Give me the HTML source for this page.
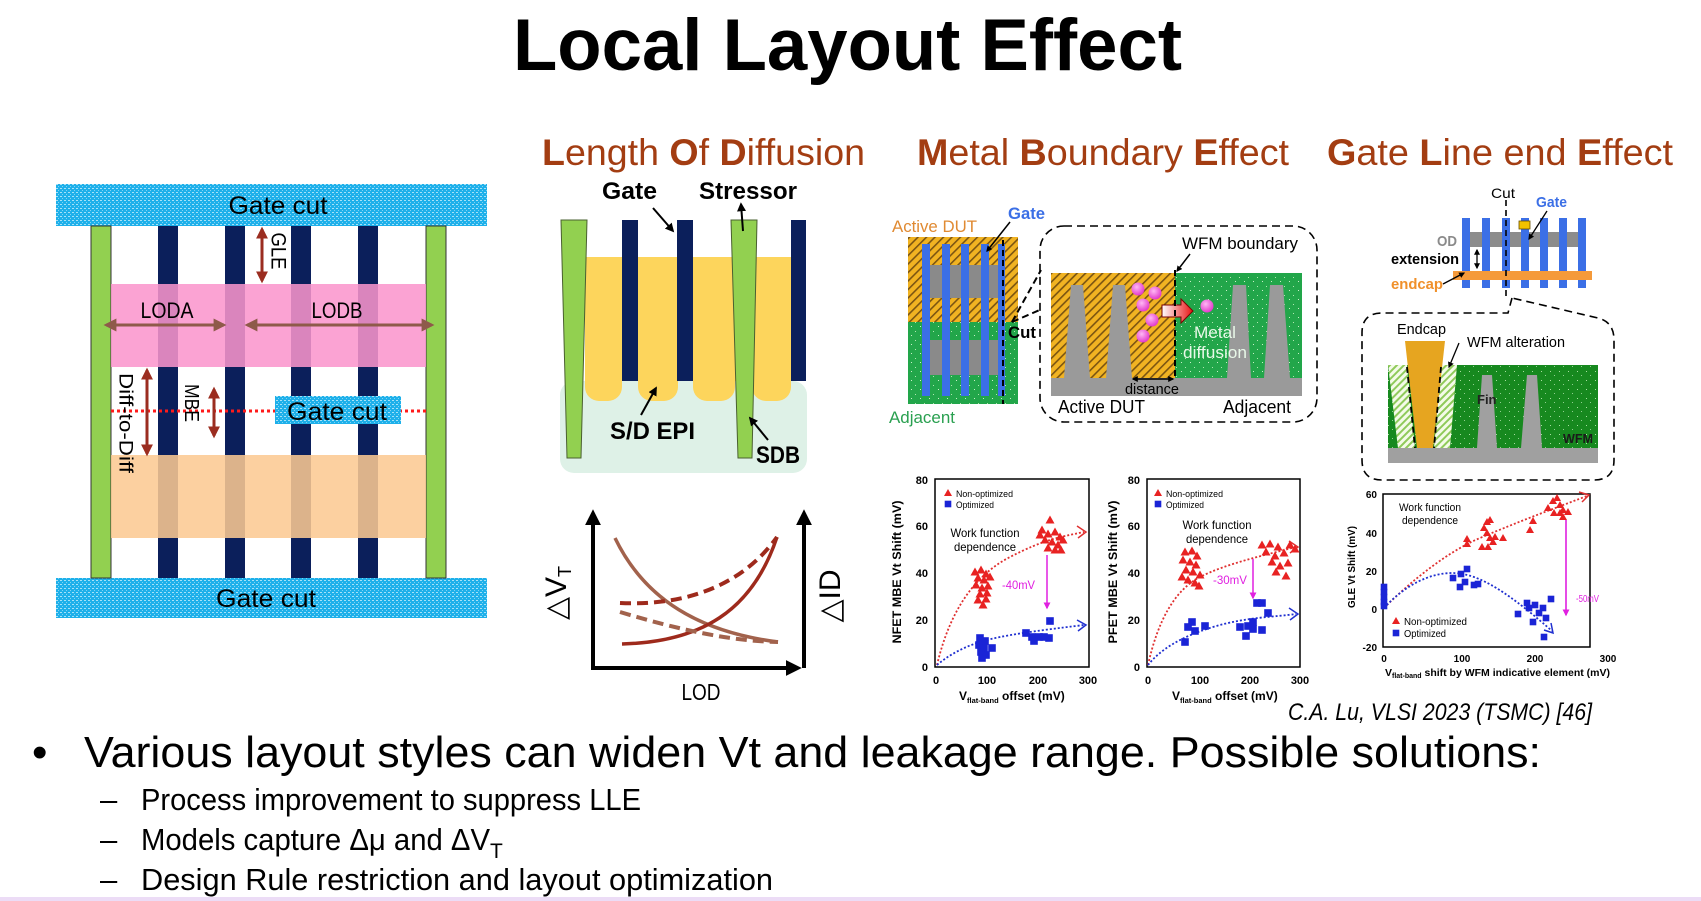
<!DOCTYPE html>
<html><head><meta charset="utf-8">
<style>html,body{margin:0;padding:0;background:#fff;}svg{display:block}</style>
</head><body>
<svg width="1701" height="901" viewBox="0 0 1701 901" xmlns="http://www.w3.org/2000/svg" font-family="'Liberation Sans', sans-serif">
<defs>
  <pattern id="cy" width="4" height="4" patternUnits="userSpaceOnUse">
    <rect width="4" height="4" fill="#1eb0ea"/><rect width="2" height="1" fill="#a6e2f8"/><rect x="2" y="2" width="1" height="1" fill="#7fd4f4"/>
  </pattern>
  <pattern id="hatch" width="6" height="6" patternUnits="userSpaceOnUse" patternTransform="rotate(45)">
    <rect width="6" height="6" fill="#f1b322"/><rect width="1.6" height="6" fill="#7a5412"/>
  </pattern>
  <pattern id="gd" width="9" height="9" patternUnits="userSpaceOnUse">
    <rect width="9" height="9" fill="#22a64a"/><rect x="2" y="2" width="1" height="1" fill="#c8f0c8"/><rect x="6" y="7" width="1" height="1" fill="#b0e8b0"/>
  </pattern>
  <pattern id="gd2" width="9" height="9" patternUnits="userSpaceOnUse">
    <rect width="9" height="9" fill="#17891f"/><rect x="2" y="2" width="1" height="1" fill="#a8e0a0"/><rect x="6" y="6" width="1" height="1" fill="#90d090"/>
  </pattern>
  <pattern id="lh" width="5" height="5" patternUnits="userSpaceOnUse" patternTransform="rotate(45)">
    <rect width="5" height="5" fill="#f4fbe8"/><rect width="2" height="5" fill="#8fca5a"/>
  </pattern>
  <linearGradient id="rg" x1="0" x2="1" y1="0" y2="0"><stop offset="0" stop-color="#fff"/><stop offset="1" stop-color="#e81010"/></linearGradient>
  <radialGradient id="pk" cx="0.4" cy="0.35" r="0.7"><stop offset="0" stop-color="#ffb8f4"/><stop offset="1" stop-color="#e030c8"/></radialGradient>
  <marker id="mR" viewBox="0 0 10 10" refX="8" refY="5" markerWidth="12" markerHeight="12" markerUnits="userSpaceOnUse" orient="auto-start-reverse"><path d="M0,0L10,5L0,10z" fill="#9b2d20"/></marker>
  <marker id="mB" viewBox="0 0 10 10" refX="8" refY="5" markerWidth="13" markerHeight="13" markerUnits="userSpaceOnUse" orient="auto-start-reverse"><path d="M0,0L10,5L0,10z" fill="#8e5a4a"/></marker>
  <marker id="mK" viewBox="0 0 10 10" refX="8" refY="5" markerWidth="9" markerHeight="9" markerUnits="userSpaceOnUse" orient="auto-start-reverse"><path d="M0,0L10,5L0,10z" fill="#000"/></marker>
  <marker id="mK2" viewBox="0 0 10 10" refX="8" refY="5" markerWidth="6" markerHeight="6" markerUnits="userSpaceOnUse" orient="auto-start-reverse"><path d="M0,0L10,5L0,10z" fill="#000"/></marker>
  <marker id="mA" viewBox="0 0 10 10" refX="7" refY="5" markerWidth="16" markerHeight="16" markerUnits="userSpaceOnUse" orient="auto"><path d="M0,0L10,5L0,10z" fill="#000"/></marker>
  <marker id="mM" viewBox="0 0 10 10" refX="8" refY="5" markerWidth="7" markerHeight="7" markerUnits="userSpaceOnUse" orient="auto"><path d="M0,0L10,5L0,10z" fill="#e020e0"/></marker>
  <path id="tri" d="M0,-4.5 L4.5,3.5 L-4.5,3.5Z" fill="#e82222"/>
  <rect id="sq" x="-3.8" y="-3.8" width="7.6" height="7.6" fill="#1a24d6"/>
  <path id="tri2" d="M0,-4 L4,3 L-4,3Z" fill="#e82222"/>
  <rect id="sq2" x="-3.3" y="-3.3" width="6.6" height="6.6" fill="#1a24d6"/>
</defs>

<!-- Title -->
<text x="513" y="70" font-size="73" font-weight="bold" textLength="669" lengthAdjust="spacingAndGlyphs">Local Layout Effect</text>

<!-- Section titles -->
<text x="542" y="165" font-size="37" fill="#a33d12" textLength="323" lengthAdjust="spacingAndGlyphs"><tspan font-weight="bold">L</tspan>ength <tspan font-weight="bold">O</tspan>f <tspan font-weight="bold">D</tspan>iffusion</text>
<text x="917" y="165" font-size="37" fill="#a33d12" textLength="372" lengthAdjust="spacingAndGlyphs"><tspan font-weight="bold">M</tspan>etal <tspan font-weight="bold">B</tspan>oundary <tspan font-weight="bold">E</tspan>ffect</text>
<text x="1327" y="165" font-size="37" fill="#a33d12" textLength="346" lengthAdjust="spacingAndGlyphs"><tspan font-weight="bold">G</tspan>ate <tspan font-weight="bold">L</tspan>ine end <tspan font-weight="bold">E</tspan>ffect</text>

<!-- ===== Left panel ===== -->
<rect x="56" y="184" width="431" height="42" fill="url(#cy)"/>
<rect x="56" y="578" width="431" height="40" fill="url(#cy)"/>
<rect x="91" y="226" width="20" height="352" fill="#92d050" stroke="#333" stroke-width="1"/>
<rect x="426" y="226" width="20" height="352" fill="#92d050" stroke="#333" stroke-width="1"/>
<rect x="158" y="226" width="20" height="352" fill="#0b1f5b"/>
<rect x="225" y="226" width="20" height="352" fill="#0b1f5b"/>
<rect x="291" y="226" width="20" height="352" fill="#0b1f5b"/>
<rect x="358" y="226" width="20" height="352" fill="#0b1f5b"/>
<rect x="111" y="284" width="315" height="83" fill="rgb(250,149,204)" fill-opacity="0.865"/>
<rect x="111" y="455" width="315" height="83" fill="rgb(252,201,146)" fill-opacity="0.87"/>
<line x1="111" y1="411" x2="426" y2="411" stroke="#ff1a1a" stroke-width="3" stroke-dasharray="3,3"/>
<rect x="275" y="396" width="126" height="28" fill="url(#cy)"/>
<text x="278" y="214" text-anchor="middle" font-size="25" textLength="99" lengthAdjust="spacingAndGlyphs">Gate cut</text>
<text x="266" y="607" text-anchor="middle" font-size="25" textLength="100" lengthAdjust="spacingAndGlyphs">Gate cut</text>
<text x="337" y="420" text-anchor="middle" font-size="25" textLength="100" lengthAdjust="spacingAndGlyphs">Gate cut</text>
<text x="167" y="318" text-anchor="middle" font-size="22" textLength="53" lengthAdjust="spacingAndGlyphs">LODA</text>
<text x="337" y="318" text-anchor="middle" font-size="22" textLength="51" lengthAdjust="spacingAndGlyphs">LODB</text>
<line x1="106" y1="325" x2="224" y2="325" stroke="#8e5a4a" stroke-width="3" marker-start="url(#mB)" marker-end="url(#mB)"/>
<line x1="247" y1="325" x2="432" y2="325" stroke="#8e5a4a" stroke-width="3" marker-start="url(#mB)" marker-end="url(#mB)"/>
<line x1="262" y1="229" x2="262" y2="281" stroke="#9b2d20" stroke-width="3" marker-start="url(#mR)" marker-end="url(#mR)"/>
<text transform="translate(278,251) rotate(90)" text-anchor="middle" dominant-baseline="central" font-size="21" textLength="37" lengthAdjust="spacingAndGlyphs">GLE</text>
<line x1="147" y1="370" x2="147" y2="454" stroke="#9b2d20" stroke-width="3" marker-start="url(#mR)" marker-end="url(#mR)"/>
<text transform="translate(125,423) rotate(90)" text-anchor="middle" dominant-baseline="central" font-size="19" textLength="100" lengthAdjust="spacingAndGlyphs">Diff-to-Diff</text>
<line x1="214" y1="389" x2="214" y2="436" stroke="#9b2d20" stroke-width="3" marker-start="url(#mR)" marker-end="url(#mR)"/>
<text transform="translate(191,403) rotate(90)" text-anchor="middle" dominant-baseline="central" font-size="20" textLength="38" lengthAdjust="spacingAndGlyphs">MBE</text>

<!-- ===== LOD cross-section ===== -->
<rect x="560" y="381" width="247" height="92" rx="14" fill="#def1e7"/>
<rect x="585" y="257" width="208" height="124" fill="#fdd55c"/>
<rect x="585" y="355" width="37" height="46" rx="14" fill="#fdd55c"/>
<rect x="638" y="355" width="40" height="46" rx="14" fill="#fdd55c"/>
<rect x="693" y="355" width="42" height="46" rx="14" fill="#fdd55c"/>
<rect x="752" y="355" width="39" height="46" rx="14" fill="#fdd55c"/>
<rect x="622" y="220" width="16" height="161" fill="#0b1f5b"/>
<rect x="677" y="220" width="16" height="161" fill="#0b1f5b"/>
<rect x="791" y="220" width="15" height="161" fill="#0b1f5b"/>
<polygon points="561,220 587,220 581,458 567,458" fill="#92d050" stroke="#4a6030" stroke-width="1"/>
<polygon points="731,220 757,220 752,458 738,458" fill="#92d050" stroke="#4a6030" stroke-width="1"/>
<text x="602" y="199" font-size="24" font-weight="bold" textLength="55" lengthAdjust="spacingAndGlyphs">Gate</text>
<text x="699" y="199" font-size="24" font-weight="bold" textLength="98" lengthAdjust="spacingAndGlyphs">Stressor</text>
<line x1="653" y1="208" x2="673" y2="231" stroke="#000" stroke-width="2" marker-end="url(#mK)"/>
<line x1="743" y1="231" x2="741" y2="204" stroke="#000" stroke-width="2" marker-end="url(#mK)"/>
<line x1="641" y1="415" x2="656" y2="388" stroke="#000" stroke-width="2" marker-end="url(#mK)"/>
<line x1="768" y1="440" x2="750" y2="418" stroke="#000" stroke-width="2" marker-end="url(#mK)"/>
<text x="610" y="439" font-size="24" font-weight="bold" textLength="85" lengthAdjust="spacingAndGlyphs">S/D EPI</text>
<text x="756" y="463" font-size="24" font-weight="bold" textLength="44" lengthAdjust="spacingAndGlyphs">SDB</text>

<!-- ===== LOD graph ===== -->
<line x1="593" y1="668" x2="593" y2="514" stroke="#000" stroke-width="4" marker-end="url(#mA)"/>
<line x1="804" y1="668" x2="804" y2="514" stroke="#000" stroke-width="4" marker-end="url(#mA)"/>
<line x1="591" y1="668" x2="797" y2="668" stroke="#000" stroke-width="4" marker-end="url(#mA)"/>
<path d="M615,538 C645,600 700,632 778,642" fill="none" stroke="#a2624c" stroke-width="3.5"/>
<path d="M622,644 C700,642 752,612 777,537" fill="none" stroke="#9e2a1c" stroke-width="3.5"/>
<path d="M620,603 C685,606 742,586 777,537" fill="none" stroke="#9e2a1c" stroke-width="4" stroke-dasharray="11,6"/>
<path d="M620,612 C680,630 730,641 778,642" fill="none" stroke="#a2624c" stroke-width="4" stroke-dasharray="11,6"/>
<text transform="translate(566,593) rotate(-90)" text-anchor="middle" font-size="30">△V<tspan font-size="18" dy="5">T</tspan></text>
<text transform="translate(840,596) rotate(-90)" text-anchor="middle" font-size="30">△ID</text>
<text x="701" y="700" text-anchor="middle" font-size="23" textLength="39" lengthAdjust="spacingAndGlyphs">LOD</text>

<!-- ===== MBE diagram ===== -->
<rect x="908" y="237" width="110" height="85" fill="url(#hatch)"/>
<rect x="908" y="322" width="110" height="82" fill="url(#gd)"/>
<rect x="928" y="265" width="74" height="33" fill="#8a8a8a"/>
<rect x="928" y="340" width="74" height="35" fill="#8a8a8a"/>
<rect x="922" y="244" width="8" height="152" fill="#3b6fe6"/>
<rect x="942" y="244" width="8" height="152" fill="#3b6fe6"/>
<rect x="961" y="244" width="8" height="152" fill="#3b6fe6"/>
<rect x="981" y="244" width="8" height="152" fill="#3b6fe6"/>
<rect x="998" y="244" width="7" height="152" fill="#3b6fe6"/>
<line x1="1003" y1="240" x2="1003" y2="404" stroke="#000" stroke-width="2" stroke-dasharray="6,4"/>
<line x1="1012" y1="322" x2="1041" y2="270" stroke="#000" stroke-width="2" stroke-dasharray="7,4"/>
<line x1="1012" y1="322" x2="1042" y2="309" stroke="#000" stroke-width="2" stroke-dasharray="7,4"/>
<line x1="1010" y1="222" x2="987" y2="251" stroke="#000" stroke-width="1.5" marker-end="url(#mK2)"/>
<text x="892" y="232" font-size="17" fill="#e08a32" textLength="85" lengthAdjust="spacingAndGlyphs">Active DUT</text>
<text x="1008" y="219" font-size="17" font-weight="bold" fill="#3b6fe6" textLength="37" lengthAdjust="spacingAndGlyphs">Gate</text>
<text x="1008" y="338" font-size="17" font-weight="bold" textLength="28" lengthAdjust="spacingAndGlyphs">Cut</text>
<text x="889" y="423" font-size="17" fill="#2aa050" textLength="66" lengthAdjust="spacingAndGlyphs">Adjacent</text>
<rect x="1040" y="226" width="277" height="196" rx="24" fill="none" stroke="#000" stroke-width="1.6" stroke-dasharray="8,5"/>
<rect x="1051" y="273" width="124" height="105" fill="url(#hatch)"/>
<rect x="1175" y="273" width="127" height="105" fill="url(#gd)"/>
<rect x="1051" y="378" width="251" height="18" fill="#9a9a9a"/>
<polygon points="1071,285 1083,285 1090,378 1064,378" fill="#9a9a9a"/>
<polygon points="1113,285 1125,285 1132,378 1106,378" fill="#9a9a9a"/>
<polygon points="1233,285 1246,285 1251,378 1227,378" fill="#9a9a9a"/>
<polygon points="1270,285 1283,285 1290,378 1264,378" fill="#9a9a9a"/>
<circle cx="1138" cy="289" r="6.5" fill="url(#pk)"/>
<circle cx="1155" cy="293" r="6.5" fill="url(#pk)"/>
<circle cx="1143" cy="305" r="6.5" fill="url(#pk)"/>
<circle cx="1152" cy="320" r="6.5" fill="url(#pk)"/>
<circle cx="1143" cy="336" r="6.5" fill="url(#pk)"/>
<circle cx="1207" cy="306" r="6.5" fill="url(#pk)"/>
<path d="M1162,305 L1181,305 L1181,299 L1193,311 L1181,323 L1181,317 L1162,317 Z" fill="url(#rg)" stroke="#7a0000" stroke-width="1"/>
<line x1="1175" y1="270" x2="1175" y2="378" stroke="#000" stroke-width="2" stroke-dasharray="6,4"/>
<line x1="1190" y1="254" x2="1177" y2="271" stroke="#000" stroke-width="1.5" marker-end="url(#mK2)"/>
<line x1="1133" y1="379" x2="1173" y2="379" stroke="#000" stroke-width="1.5" marker-start="url(#mK2)" marker-end="url(#mK2)"/>
<text x="1182" y="249" font-size="17" textLength="116" lengthAdjust="spacingAndGlyphs">WFM boundary</text>
<text x="1215" y="338" text-anchor="middle" font-size="17" fill="#e8f8e8" textLength="42" lengthAdjust="spacingAndGlyphs">Metal</text>
<text x="1215" y="358" text-anchor="middle" font-size="17" fill="#e8f8e8" textLength="64" lengthAdjust="spacingAndGlyphs">diffusion</text>
<text x="1152" y="394" text-anchor="middle" font-size="15" textLength="54" lengthAdjust="spacingAndGlyphs">distance</text>
<text x="1058" y="413" font-size="18" textLength="87" lengthAdjust="spacingAndGlyphs">Active DUT</text>
<text x="1223" y="413" font-size="18" textLength="68" lengthAdjust="spacingAndGlyphs">Adjacent</text>

<!-- ===== GLE diagram ===== -->
<rect x="1462" y="232" width="124" height="15" fill="#8c8c8c"/>
<rect x="1462" y="218" width="8" height="70" fill="#3b6fe6"/>
<rect x="1482" y="218" width="8" height="70" fill="#3b6fe6"/>
<rect x="1502" y="218" width="8" height="70" fill="#3b6fe6"/>
<rect x="1521" y="218" width="8" height="70" fill="#3b6fe6"/>
<rect x="1540" y="218" width="8" height="70" fill="#3b6fe6"/>
<rect x="1559" y="218" width="8" height="70" fill="#3b6fe6"/>
<rect x="1578" y="218" width="8" height="70" fill="#3b6fe6"/>
<rect x="1453" y="271" width="139" height="9" fill="#f59a3a"/>
<rect x="1519" y="221" width="11" height="8" fill="#f2c200" stroke="#6a5000" stroke-width="0.8"/>
<line x1="1506" y1="200" x2="1506" y2="298" stroke="#000" stroke-width="1.6" stroke-dasharray="6,4"/>
<line x1="1547" y1="211" x2="1529" y2="239" stroke="#000" stroke-width="1.3" marker-end="url(#mK2)"/>
<line x1="1443" y1="284" x2="1464" y2="273" stroke="#000" stroke-width="1.3" marker-end="url(#mK2)"/>
<line x1="1477" y1="250" x2="1477" y2="268" stroke="#000" stroke-width="1.3" marker-start="url(#mK2)" marker-end="url(#mK2)"/>
<text x="1503" y="198" text-anchor="middle" font-size="14" textLength="24" lengthAdjust="spacingAndGlyphs">Cut</text>
<text x="1536" y="207" font-size="15" font-weight="bold" fill="#3b6fe6" textLength="31" lengthAdjust="spacingAndGlyphs">Gate</text>
<text x="1437" y="246" font-size="15" font-weight="bold" fill="#8a8a8a" textLength="20" lengthAdjust="spacingAndGlyphs">OD</text>
<text x="1391" y="264" font-size="15" font-weight="bold" textLength="68" lengthAdjust="spacingAndGlyphs">extension</text>
<text x="1391" y="289" font-size="15" font-weight="bold" fill="#f0902a" textLength="52" lengthAdjust="spacingAndGlyphs">endcap</text>
<path d="M1512,298 L1508,313 L1382,313 Q1362,313 1362,333 L1362,460 Q1362,480 1382,480 L1594,480 Q1614,480 1614,460 L1614,340 Q1614,322 1598,318 Z" fill="none" stroke="#000" stroke-width="1.6" stroke-dasharray="8,5"/>
<rect x="1388" y="365" width="210" height="83" fill="url(#gd2)"/>
<polygon points="1388,365 1407,365 1415,448 1398,448" fill="url(#lh)"/>
<polygon points="1441,365 1457,365 1450,448 1434,448" fill="url(#lh)"/>
<polygon points="1405,341 1445,341 1433,448 1417,448" fill="#e6a520"/>
<line x1="1407" y1="367" x2="1415" y2="448" stroke="#000" stroke-width="1.8" stroke-dasharray="6,4"/>
<line x1="1441" y1="367" x2="1434" y2="448" stroke="#000" stroke-width="1.8" stroke-dasharray="6,4"/>
<polygon points="1482,375 1492,375 1497,448 1477,448" fill="#a0a0a0"/>
<polygon points="1527,375 1537,375 1542,448 1521,448" fill="#a0a0a0"/>
<rect x="1388" y="448" width="210" height="15" fill="#a0a0a0"/>
<line x1="1459" y1="343" x2="1449" y2="367" stroke="#000" stroke-width="1.3" marker-end="url(#mK2)"/>
<text x="1397" y="334" font-size="15" textLength="49" lengthAdjust="spacingAndGlyphs">Endcap</text>
<text x="1467" y="347" font-size="15" textLength="98" lengthAdjust="spacingAndGlyphs">WFM alteration</text>
<text x="1477" y="404" font-size="13" font-weight="bold" fill="#222">Fin</text>
<text x="1563" y="443" font-size="13" font-weight="bold" fill="#1a1a1a" textLength="30" lengthAdjust="spacingAndGlyphs">WFM</text>

<!-- ===== Chart 1 NFET ===== -->
<rect x="935" y="479" width="154" height="188" fill="none" stroke="#000" stroke-width="1.5"/>
<g font-size="11" font-weight="bold" text-anchor="end">
<text x="928" y="484">80</text><text x="928" y="530">60</text><text x="928" y="577">40</text><text x="928" y="624">20</text><text x="928" y="671">0</text>
</g>
<g font-size="11" font-weight="bold" text-anchor="middle">
<text x="936" y="684">0</text><text x="987" y="684">100</text><text x="1038" y="684">200</text><text x="1088" y="684">300</text>
</g>
<text transform="translate(901,572) rotate(-90)" text-anchor="middle" font-size="11.5" font-weight="bold" textLength="143" lengthAdjust="spacingAndGlyphs">NFET MBE Vt Shift (mV)</text>
<text x="959" y="700" font-size="12" font-weight="bold">V<tspan font-size="7.5" dy="3">flat-band</tspan><tspan dy="-3"> offset (mV)</tspan></text>
<path d="M937,665 C950,610 975,575 1010,557 S1060,537 1084,532" fill="none" stroke="#e03030" stroke-width="1.8" stroke-dasharray="2,2"/>
<polyline points="1077,526 1086,532 1078,538" fill="none" stroke="#e03030" stroke-width="1.5"/>
<path d="M937,665 C955,650 975,642 1000,637 S1060,628 1084,625" fill="none" stroke="#2030d0" stroke-width="1.8" stroke-dasharray="2,2"/>
<polyline points="1077,620 1086,625 1078,631" fill="none" stroke="#2030d0" stroke-width="1.5"/>
<g>
<use href="#tri" x="975" y="572"/><use href="#tri" x="981" y="570"/><use href="#tri" x="986" y="574"/><use href="#tri" x="978" y="578"/><use href="#tri" x="984" y="580"/><use href="#tri" x="990" y="577"/><use href="#tri" x="976" y="585"/><use href="#tri" x="982" y="588"/><use href="#tri" x="988" y="586"/><use href="#tri" x="980" y="594"/><use href="#tri" x="987" y="593"/><use href="#tri" x="978" y="600"/><use href="#tri" x="983" y="605"/><use href="#tri" x="986" y="599"/>
<use href="#tri" x="1050" y="520"/><use href="#tri" x="1042" y="530"/><use href="#tri" x="1048" y="534"/><use href="#tri" x="1055" y="532"/><use href="#tri" x="1060" y="537"/><use href="#tri" x="1045" y="540"/><use href="#tri" x="1052" y="542"/><use href="#tri" x="1058" y="545"/><use href="#tri" x="1063" y="540"/><use href="#tri" x="1048" y="548"/><use href="#tri" x="1055" y="550"/><use href="#tri" x="1061" y="550"/><use href="#tri" x="1040" y="535"/>
<use href="#sq" x="980" y="638"/><use href="#sq" x="985" y="641"/><use href="#sq" x="979" y="645"/><use href="#sq" x="984" y="648"/><use href="#sq" x="992" y="648"/><use href="#sq" x="981" y="652"/><use href="#sq" x="986" y="655"/><use href="#sq" x="982" y="658"/>
<use href="#sq" x="1026" y="633"/><use href="#sq" x="1032" y="637"/><use href="#sq" x="1034" y="641"/><use href="#sq" x="1039" y="637"/><use href="#sq" x="1044" y="637"/><use href="#sq" x="1049" y="638"/><use href="#sq" x="1050" y="621"/>
</g>
<line x1="1047" y1="555" x2="1047" y2="608" stroke="#e020e0" stroke-width="1.5" marker-end="url(#mM)"/>
<text x="1002" y="589" font-size="11.5" fill="#e020e0" textLength="33" lengthAdjust="spacingAndGlyphs">-40mV</text>
<use href="#tri2" x="948" y="493"/><text x="956" y="497" font-size="9" textLength="57" lengthAdjust="spacingAndGlyphs">Non-optimized</text>
<use href="#sq2" x="948" y="504"/><text x="956" y="508" font-size="9" textLength="38" lengthAdjust="spacingAndGlyphs">Optimized</text>
<text x="985" y="537" text-anchor="middle" font-size="12" textLength="69" lengthAdjust="spacingAndGlyphs">Work function</text>
<text x="985" y="551" text-anchor="middle" font-size="12" textLength="62" lengthAdjust="spacingAndGlyphs">dependence</text>

<!-- ===== Chart 2 PFET ===== -->
<rect x="1147" y="479" width="153" height="188" fill="none" stroke="#000" stroke-width="1.5"/>
<g font-size="11" font-weight="bold" text-anchor="end">
<text x="1140" y="484">80</text><text x="1140" y="530">60</text><text x="1140" y="577">40</text><text x="1140" y="624">20</text><text x="1140" y="671">0</text>
</g>
<g font-size="11" font-weight="bold" text-anchor="middle">
<text x="1148" y="684">0</text><text x="1200" y="684">100</text><text x="1250" y="684">200</text><text x="1300" y="684">300</text>
</g>
<text transform="translate(1117,572) rotate(-90)" text-anchor="middle" font-size="11.5" font-weight="bold" textLength="143" lengthAdjust="spacingAndGlyphs">PFET MBE Vt Shift (mV)</text>
<text x="1172" y="700" font-size="12" font-weight="bold">V<tspan font-size="7.5" dy="3">flat-band</tspan><tspan dy="-3"> offset (mV)</tspan></text>
<path d="M1148,665 C1158,620 1175,590 1200,577 S1265,555 1296,547" fill="none" stroke="#e03030" stroke-width="1.8" stroke-dasharray="2,2"/>
<polyline points="1289,541 1298,547 1290,553" fill="none" stroke="#e03030" stroke-width="1.5"/>
<path d="M1148,665 C1160,650 1180,637 1213,627 S1275,617 1296,614" fill="none" stroke="#2030d0" stroke-width="1.8" stroke-dasharray="2,2"/>
<polyline points="1289,608 1298,614 1290,620" fill="none" stroke="#2030d0" stroke-width="1.5"/>
<g>
<use href="#tri" x="1185" y="552"/><use href="#tri" x="1192" y="551"/><use href="#tri" x="1197" y="556"/><use href="#tri" x="1183" y="560"/><use href="#tri" x="1190" y="562"/><use href="#tri" x="1196" y="565"/><use href="#tri" x="1186" y="570"/><use href="#tri" x="1193" y="572"/><use href="#tri" x="1200" y="575"/><use href="#tri" x="1188" y="580"/><use href="#tri" x="1195" y="583"/><use href="#tri" x="1182" y="577"/><use href="#tri" x="1199" y="586"/>
<use href="#tri" x="1262" y="545"/><use href="#tri" x="1270" y="544"/><use href="#tri" x="1278" y="547"/><use href="#tri" x="1290" y="545"/><use href="#tri" x="1266" y="552"/><use href="#tri" x="1275" y="556"/><use href="#tri" x="1284" y="553"/><use href="#tri" x="1295" y="549"/><use href="#tri" x="1272" y="562"/><use href="#tri" x="1280" y="566"/><use href="#tri" x="1288" y="563"/><use href="#tri" x="1276" y="572"/><use href="#tri" x="1286" y="576"/>
<use href="#sq" x="1185" y="642"/><use href="#sq" x="1188" y="627"/><use href="#sq" x="1192" y="622"/><use href="#sq" x="1195" y="631"/><use href="#sq" x="1205" y="626"/>
<use href="#sq" x="1240" y="627"/><use href="#sq" x="1246" y="636"/><use href="#sq" x="1248" y="626"/><use href="#sq" x="1253" y="622"/><use href="#sq" x="1253" y="629"/><use href="#sq" x="1257" y="603"/><use href="#sq" x="1262" y="603"/><use href="#sq" x="1268" y="613"/><use href="#sq" x="1262" y="630"/>
</g>
<line x1="1253" y1="559" x2="1253" y2="598" stroke="#e020e0" stroke-width="1.5" marker-end="url(#mM)"/>
<text x="1213" y="584" font-size="11.5" fill="#e020e0" textLength="34" lengthAdjust="spacingAndGlyphs">-30mV</text>
<use href="#tri2" x="1158" y="493"/><text x="1166" y="497" font-size="9" textLength="57" lengthAdjust="spacingAndGlyphs">Non-optimized</text>
<use href="#sq2" x="1158" y="504"/><text x="1166" y="508" font-size="9" textLength="38" lengthAdjust="spacingAndGlyphs">Optimized</text>
<text x="1217" y="529" text-anchor="middle" font-size="12" textLength="69" lengthAdjust="spacingAndGlyphs">Work function</text>
<text x="1217" y="543" text-anchor="middle" font-size="12" textLength="62" lengthAdjust="spacingAndGlyphs">dependence</text>

<!-- ===== Chart 3 GLE ===== -->
<rect x="1383" y="494" width="207" height="153" fill="none" stroke="#000" stroke-width="1.5"/>
<g font-size="10" font-weight="bold" text-anchor="end">
<text x="1377" y="498">60</text><text x="1377" y="537">40</text><text x="1377" y="575">20</text><text x="1377" y="613">0</text><text x="1377" y="651">-20</text>
</g>
<g font-size="10" font-weight="bold" text-anchor="middle">
<text x="1384" y="662">0</text><text x="1462" y="662">100</text><text x="1535" y="662">200</text><text x="1608" y="662">300</text>
</g>
<text transform="translate(1355,567) rotate(-90)" text-anchor="middle" font-size="10" font-weight="bold" textLength="82" lengthAdjust="spacingAndGlyphs">GLE Vt Shift (mV)</text>
<text x="1385" y="676" font-size="10.5" font-weight="bold" textLength="225" lengthAdjust="spacingAndGlyphs">V<tspan font-size="7" dy="2">flat-band</tspan><tspan dy="-2"> shift by WFM indicative element (mV)</tspan></text>
<path d="M1384,608 C1400,592 1440,555 1480,538 S1550,510 1587,496" fill="none" stroke="#e03030" stroke-width="1.8" stroke-dasharray="2,2"/>
<polyline points="1579,492 1589,495 1582,502" fill="none" stroke="#e03030" stroke-width="1.5"/>
<path d="M1384,608 C1405,585 1430,573 1452,573 S1500,585 1552,631" fill="none" stroke="#2030d0" stroke-width="1.8" stroke-dasharray="2,2"/>
<polyline points="1544,630 1553,633 1551,623" fill="none" stroke="#2030d0" stroke-width="1.5"/>
<g>
<use href="#tri2" x="1467" y="539"/><use href="#tri2" x="1467" y="544"/><use href="#tri2" x="1487" y="522"/><use href="#tri2" x="1490" y="520"/><use href="#tri2" x="1484" y="528"/><use href="#tri2" x="1487" y="533"/><use href="#tri2" x="1490" y="538"/><use href="#tri2" x="1493" y="542"/><use href="#tri2" x="1482" y="547"/><use href="#tri2" x="1488" y="547"/><use href="#tri2" x="1495" y="537"/><use href="#tri2" x="1503" y="538"/><use href="#tri2" x="1530" y="530"/><use href="#tri2" x="1533" y="521"/><use href="#tri2" x="1548" y="508"/><use href="#tri2" x="1553" y="501"/><use href="#tri2" x="1557" y="498"/><use href="#tri2" x="1560" y="505"/><use href="#tri2" x="1563" y="510"/><use href="#tri2" x="1563" y="517"/><use href="#tri2" x="1568" y="512"/><use href="#tri2" x="1554" y="513"/><use href="#tri2" x="1560" y="513"/>
<use href="#sq2" x="1384" y="587"/><use href="#sq2" x="1384" y="592"/><use href="#sq2" x="1384" y="597"/><use href="#sq2" x="1384" y="602"/><use href="#sq2" x="1384" y="606"/>
<use href="#sq2" x="1453" y="578"/><use href="#sq2" x="1461" y="574"/><use href="#sq2" x="1460" y="587"/><use href="#sq2" x="1465" y="582"/><use href="#sq2" x="1467" y="569"/><use href="#sq2" x="1474" y="585"/><use href="#sq2" x="1478" y="584"/>
<use href="#sq2" x="1518" y="614"/><use href="#sq2" x="1527" y="603"/><use href="#sq2" x="1529" y="608"/><use href="#sq2" x="1535" y="605"/><use href="#sq2" x="1533" y="622"/><use href="#sq2" x="1539" y="613"/><use href="#sq2" x="1543" y="608"/><use href="#sq2" x="1546" y="618"/><use href="#sq2" x="1544" y="637"/><use href="#sq2" x="1551" y="599"/>
</g>
<line x1="1566" y1="520" x2="1566" y2="615" stroke="#e020e0" stroke-width="1.6" marker-end="url(#mM)"/>
<text x="1576" y="602" font-size="10.5" fill="#e020e0" textLength="23" lengthAdjust="spacingAndGlyphs">-50mV</text>
<use href="#tri2" x="1396" y="621"/><text x="1404" y="625" font-size="10" textLength="63" lengthAdjust="spacingAndGlyphs">Non-optimized</text>
<use href="#sq2" x="1396" y="633"/><text x="1404" y="637" font-size="10" textLength="42" lengthAdjust="spacingAndGlyphs">Optimized</text>
<text x="1430" y="511" text-anchor="middle" font-size="11" textLength="62" lengthAdjust="spacingAndGlyphs">Work function</text>
<text x="1430" y="524" text-anchor="middle" font-size="11" textLength="56" lengthAdjust="spacingAndGlyphs">dependence</text>

<!-- Citation -->
<text x="1288" y="720" font-size="24" font-style="italic" textLength="304" lengthAdjust="spacingAndGlyphs">C.A. Lu, VLSI 2023 (TSMC) [46]</text>

<!-- Bullets -->
<text x="32" y="767" font-size="44">•</text>
<text x="84" y="767" font-size="44" textLength="1457" lengthAdjust="spacingAndGlyphs">Various layout styles can widen Vt and leakage range. Possible solutions:</text>
<text x="100" y="810" font-size="31">–</text>
<text x="141" y="810" font-size="31" textLength="500" lengthAdjust="spacingAndGlyphs">Process improvement to suppress LLE</text>
<text x="100" y="850" font-size="31">–</text>
<text x="141" y="850" font-size="31" textLength="349" lengthAdjust="spacingAndGlyphs">Models capture Δμ and ΔV</text>
<text x="490" y="858" font-size="21">T</text>
<text x="100" y="890" font-size="31">–</text>
<text x="141" y="890" font-size="31" textLength="632" lengthAdjust="spacingAndGlyphs">Design Rule restriction and layout optimization</text>

<rect x="0" y="897" width="1701" height="4" fill="#ecdcf6"/>
</svg>
</body></html>
